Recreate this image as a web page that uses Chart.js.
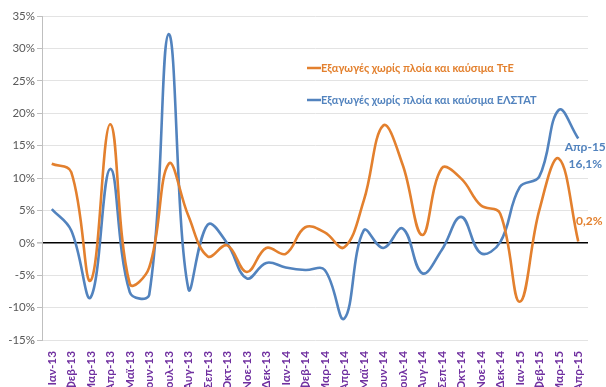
<!DOCTYPE html>
<html>
<head>
<meta charset="utf-8">
<script src="https://cdn.jsdelivr.net/npm/chart.js@4.4.1/dist/chart.umd.min.js"></script>
<style>
  html, body { margin: 0; padding: 0; background: #fff; }
  #wrap { width: 606px; height: 387px; }
</style>
</head>
<body>
<div id="wrap"><canvas id="chart"></canvas></div>
<script>
// months Jan-13 .. Apr-15
var months = ["Ιαν-13", "Φεβ-13", "Μαρ-13", "Απρ-13", "Μαϊ-13", "Ιουν-13", "Ιουλ-13", "Αυγ-13",
  "Σεπ-13", "Οκτ-13", "Νοε-13", "Δεκ-13", "Ιαν-14", "Φεβ-14", "Μαρ-14", "Απρ-14", "Μαϊ-14",
  "Ιουν-14", "Ιουλ-14", "Αυγ-14", "Σεπ-14", "Οκτ-14", "Νοε-14", "Δεκ-14", "Ιαν-15", "Φεβ-15",
  "Μαρ-15", "Απρ-15"];

// exports excl. ships & fuels, % y/y
var bogData = [12.2, 10.9, -5.8, 18.3, -6.3, -3.8, 12.2, 4.2, -2.1, -0.4, -4.5, -0.8, -1.7, 2.4,
  1.6, -0.7, 6.5, 18.1, 12.0, 1.2, 11.5, 9.9, 5.8, 4.5, -9.1, 5.0, 13.0, 0.2];
var elstatData = [5.2, 1.9, -8.4, 11.4, -7.6, -8.0, 32.2, -7.0, 2.8, -0.1, -5.5, -3.1, -3.8, -4.2,
  -4.2, -11.7, 1.9, -0.8, 2.2, -4.7, -1.1, 4.0, -1.6, 0.1, 8.6, 10.2, 20.5, 16.1];

var seriesNames = ["Εξαγωγές χωρίς πλοία και καύσιμα ΤτΕ", "Εξαγωγές χωρίς πλοία και καύσιμα ΕΛΣΤΑΤ"];
var yTicks = [-15, -10, -5, 0, 5, 10, 15, 20, 25, 30, 35];

var ORANGE = "#E3802E";
var BLUE = "#5283BE";
var FONT = "Lato, 'Open Sans', sans-serif";

// legend + end labels
var extras = {
  id: "extras",
  afterDatasetsDraw(chart) {
    const ctx = chart.ctx;
    ctx.save();
    // legend
    ctx.font = "bold 11px " + FONT;
    ctx.textBaseline = "middle";
    ctx.lineWidth = 2.5;
    [[ORANGE, 68, seriesNames[0]], [BLUE, 100, seriesNames[1]]].forEach(function (it) {
      ctx.strokeStyle = it[0];
      ctx.beginPath();
      ctx.moveTo(307, it[1]);
      ctx.lineTo(321, it[1]);
      ctx.stroke();
      ctx.fillStyle = it[0];
      ctx.textAlign = "left";
      ctx.fillText(it[2], 321, it[1]);
    });
    // last values
    const n = months.length - 1;
    const pb = chart.getDatasetMeta(1).data[n];
    const po = chart.getDatasetMeta(0).data[n];
    ctx.font = "bold 12px " + FONT;
    ctx.textAlign = "center";
    ctx.fillStyle = BLUE;
    ctx.fillText(months[n], pb.x + 7, pb.y + 9);
    ctx.fillText(elstatData[n].toFixed(1).replace(".", ",") + "%", pb.x + 7, pb.y + 26);
    ctx.fillStyle = ORANGE;
    ctx.fillText(bogData[n].toFixed(1).replace(".", ",") + "%", po.x + 11, po.y - 20);
    ctx.restore();
  }
};

new Chart(document.getElementById("chart"), {
  type: "line",
  data: {
    labels: months,
    datasets: [
      { label: seriesNames[0], data: bogData, borderColor: ORANGE, borderWidth: 2.6,
        pointRadius: 0, tension: 0.4, fill: false },
      { label: seriesNames[1], data: elstatData, borderColor: BLUE, borderWidth: 2.6,
        pointRadius: 0, tension: 0.4, fill: false }
    ]
  },
  options: {
    responsive: true,
    maintainAspectRatio: false,
    animation: false,
    layout: { padding: { top: 16, right: 18, left: 0, bottom: 0 } },
    plugins: { legend: { display: false }, tooltip: { enabled: false } },
    scales: {
      x: {
        offset: true,
        grid: { display: false },
        border: { display: false },
        ticks: {
          color: "#7030A0",
          font: { family: FONT, size: 11.8, weight: "bold" },
          minRotation: 90, maxRotation: 90, autoSkip: false, padding: 3
        },
        afterFit(scale) { scale.height = 47; }
      },
      y: {
        min: -15, max: 35,
        afterBuildTicks(scale) { scale.ticks = yTicks.map(function (v) { return { value: v }; }); },
        grid: {
          color: function (c) { return c.tick && c.tick.value === 0 ? "#000" : "#e3e3e3"; },
          lineWidth: function (c) { return c.tick && c.tick.value === 0 ? 1.6 : 1; },
          tickColor: "#bfbfbf",
          tickLength: 5
        },
        border: { display: true, color: "#bfbfbf" },
        ticks: {
          color: "#595959",
          font: { family: FONT, size: 11.5 },
          padding: 2,
          callback: function (v) { return v + "%"; }
        },
        afterFit(scale) { scale.width = 42; }
      }
    }
  },
  plugins: [extras]
});
</script>
</body>
</html>
